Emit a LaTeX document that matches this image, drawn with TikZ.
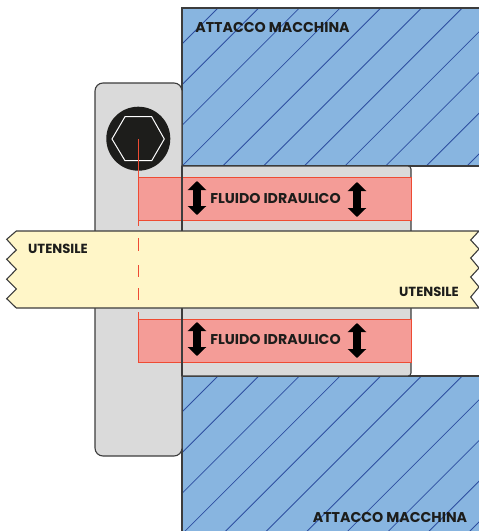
\documentclass[tikz,border=0pt]{standalone}
\usepackage{fontspec}
\setmainfont{Poppins}
\usetikzlibrary{arrows.meta}
\definecolor{bluefill}{HTML}{88B5E0}
\definecolor{hatchc}{HTML}{2E4FA0}
\definecolor{grayfill}{HTML}{DADADA}
\definecolor{redfill}{HTML}{F49C97}
\definecolor{redline}{HTML}{EE4B33}
\definecolor{toolfill}{HTML}{FFF6C8}
\definecolor{inkc}{HTML}{1D1D1B}
\definecolor{edgec}{HTML}{3C3C3C}
\tikzset{
  partedge/.style={draw=edgec,line width=1.1pt},
  hatchline/.style={draw=hatchc,line width=0.8pt},
  redbox/.style={fill=redfill,draw=redline,line width=1pt},
  redcentre/.style={draw=redline,line width=1pt},
  lab/.style={font=\bfseries\fontsize{14.2}{16}\selectfont,text=inkc,inner sep=0pt},
  labsmall/.style={font=\bfseries\fontsize{13.2}{15}\selectfont,text=inkc,inner sep=0pt},
  flowarrow/.style={line width=7.5pt,draw=black,{Triangle[width=18pt,length=9pt]}-{Triangle[width=18pt,length=9pt]}}
}
\begin{document}
\begin{tikzpicture}[x=1pt,y=-1pt]
\useasboundingbox (0,0) rectangle (479,531);
% machine blocks
\fill[bluefill] (182,8) rectangle (479,166);
\begin{scope}
\clip (182,8) rectangle (479,166);
\foreach \k in {0,...,20}{
  \draw[hatchline] ({226+\k*40.7-400},400) -- ({226+\k*40.7+100},-100);
}
\end{scope}
\draw[partedge] (479,8) -- (182,8) -- (182,166) -- (479,166);
\fill[bluefill] (182,376) rectangle (479,531);
\begin{scope}
\clip (182,376) rectangle (479,531);
\foreach \k in {0,...,16}{
  \draw[hatchline] ({594+\k*40.7-300},300) -- ({594+\k*40.7-700},700);
}
\end{scope}
\draw[partedge] (479,376) -- (182,376) -- (182,531);
% flange and sleeve
\draw[partedge,fill=grayfill] (95,91) arc[start angle=180,end angle=270,radius=8] -- (174,83) arc[start angle=270,end angle=360,radius=8] -- (182,448) arc[start angle=0,end angle=90,radius=8] -- (103,456) arc[start angle=90,end angle=180,radius=8] -- cycle;
\draw[partedge,fill=grayfill] (182,166) -- (408,166) arc[start angle=270,end angle=360,radius=3] -- (411,373) arc[start angle=0,end angle=90,radius=3] -- (182,376) -- cycle;
% fluid
\draw[redbox] (138,177) rectangle (411,220);
\draw[redbox] (138,319) rectangle (411,362);
\draw[partedge] (182,166) -- (182,376);
% bolt
\node[circle,fill=inkc,minimum size=64pt,inner sep=0pt] (bolt) at (138.3,138.7) {};
\draw[white,line width=1pt] (112,139) -- (125,116.7) -- (151.7,116.7) -- (164.3,139) -- (151.7,160.7) -- (125,160.7) -- cycle;
% tool
\draw[partedge,fill=toolfill] (16.3,231) -- (479,231) -- (470.7,240) -- (479,249) -- (470.7,258) -- (479,268) -- (470.7,277) -- (479,287) -- (470.7,297) -- (479,308) -- (16.3,308) -- (6.7,298.7) -- (16.3,289) -- (6.7,279.3) -- (16.3,269.3) -- (6.7,259.3) -- (16.3,250) -- (6.7,239.3) -- cycle;
% centre line
\coordinate (c1) at (138,139);
\coordinate (c2) at (138,226);
\draw[redcentre] (c1) -- (c2);
\foreach \a/\b in {238/251,265/277,288/300,312/319}{
  \draw[redcentre] (138,\a) -- (138,\b);
}
% arrows
\coordinate (a1t) at (197,181); \coordinate (a1b) at (197,215);
\coordinate (a2t) at (357,182); \coordinate (a2b) at (357,217);
\coordinate (a3t) at (197,322); \coordinate (a3b) at (197,356);
\coordinate (a4t) at (357,323); \coordinate (a4b) at (357,358);
\draw[flowarrow] (a1t) -- (a1b);
\draw[flowarrow] (a2t) -- (a2b);
\draw[flowarrow] (a3t) -- (a3b);
\draw[flowarrow] (a4t) -- (a4b);
% labels
\node[lab] (fl1) at (275.5,198) {FLUIDO IDRAULICO};
\node[lab] (fl2) at (275.5,339) {FLUIDO IDRAULICO};
\node[labsmall] (ut1) at (58,248.5) {UTENSILE};
\node[labsmall] (ut2) at (429,292) {UTENSILE};
\node[lab] (am1) at (272.5,27) {ATTACCO MACCHINA};
\node[lab] (am2) at (390,517) {ATTACCO MACCHINA};
\end{tikzpicture}
\end{document}
